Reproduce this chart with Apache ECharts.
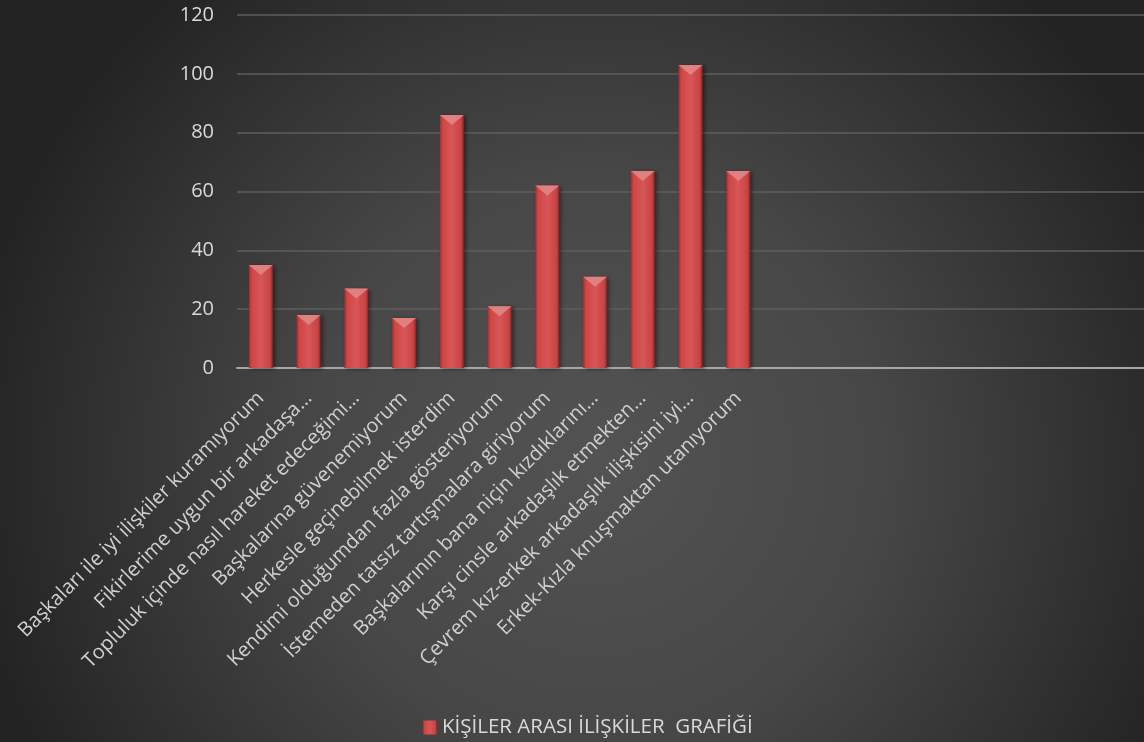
<!DOCTYPE html>
<html>
<head>
<meta charset="utf-8">
<script src="https://cdn.jsdelivr.net/npm/echarts@6/dist/echarts.min.js"></script>
<style>
  * { margin: 0; padding: 0; }
  html, body { width: 1144px; height: 742px; overflow: hidden; background: #2a2a2a; }
  #main { width: 1144px; height: 742px; }
</style>
</head>
<body>
<div id="main"></div>
<script>
// kategoriler (grafikte sağ tarafta boş kalan yerler boş etiketli)
var categories = [
  'Başkaları ile iyi ilişkiler kuramıyorum',
  'Fikirlerime uygun bir arkadaşa…',
  'Topluluk içinde nasıl hareket edeceğimi…',
  'Başkalarına güvenemiyorum',
  'Herkesle geçinebilmek isterdim',
  'Kendimi olduğumdan fazla gösteriyorum',
  'İstemeden tatsız tartışmalara giriyorum',
  'Başkalarının bana niçin kızdıklarını…',
  'Karşı cinsle arkadaşlık etmekten…',
  'Çevrem kız-erkek arkadaşlık ilişkisini iyi…',
  'Erkek-Kızla knuşmaktan utanıyorum'
];
var emptySlots = 8;
var values = [35, 18, 27, 17, 86, 21, 62, 31, 67, 103, 67];
var yTicks = [0, 20, 40, 60, 80, 100, 120];
var seriesName = 'KİŞİLER ARASI İLİŞKİLER  GRAFİĞİ';

var axisCats = categories.slice();
for (var i = 1; i <= emptySlots; i++) axisCats.push(new Array(i + 1).join(' '));

var font = '"Open Sans", "DejaVu Sans", sans-serif';
var chart = echarts.init(document.getElementById('main'));
chart.setOption({
  backgroundColor: {
    type: 'radial', x: 0.52, y: 0.62, r: 0.85,
    colorStops: [
      {offset: 0, color: '#535353'},
      {offset: 0.45, color: '#474747'},
      {offset: 1, color: '#232323'}
    ]
  },
  animation: false,
  textStyle: {fontFamily: font},
  grid: {left: 237, right: -5, top: 15, bottom: 374},
  legend: {
    data: [seriesName],
    left: 418, top: 712,
    icon: 'rect', itemWidth: 14, itemHeight: 14, itemGap: 4,
    textStyle: {color: '#d9d9d9', fontSize: 20.5, fontFamily: font}
  },
  xAxis: {
    type: 'category',
    data: axisCats,
    axisLine: {lineStyle: {color: '#a6a6a6', width: 2}},
    axisTick: {show: false},
    axisLabel: {
      interval: 0, rotate: 45, margin: 27,
      color: '#d0d0d0', fontSize: 20, fontFamily: font
    }
  },
  yAxis: {
    type: 'value',
    min: yTicks[0], max: yTicks[yTicks.length - 1], interval: 20,
    axisLine: {show: false},
    axisTick: {show: false},
    axisLabel: {color: '#d9d9d9', fontSize: 20, margin: 23, fontFamily: font},
    splitLine: {lineStyle: {color: '#5e5e5e', width: 1.5}}
  },
  series: [
    {
      name: seriesName,
      type: 'bar',
      data: values,
      barWidth: 24,
      itemStyle: {
        color: {
          type: 'linear', x: 0, y: 0, x2: 1, y2: 0,
          colorStops: [
            {offset: 0, color: '#9e2f2f'},
            {offset: 0.12, color: '#cf4646'},
            {offset: 0.5, color: '#d85656'},
            {offset: 0.88, color: '#c94444'},
            {offset: 1, color: '#852626'}
          ]
        },
        shadowColor: 'rgba(0,0,0,0.45)',
        shadowBlur: 4,
        shadowOffsetX: 2,
        shadowOffsetY: 1
      }
    },
    {
      type: 'pictorialBar',
      data: values,
      barWidth: 24,
      symbol: 'path://M0,0 L2,0 L1,1 Z',
      symbolSize: [24, 10],
      symbolPosition: 'end',
      z: 3,
      silent: true,
      itemStyle: {color: '#e08a8a', opacity: 0.85}
    }
  ]
});
</script>
</body>
</html>
